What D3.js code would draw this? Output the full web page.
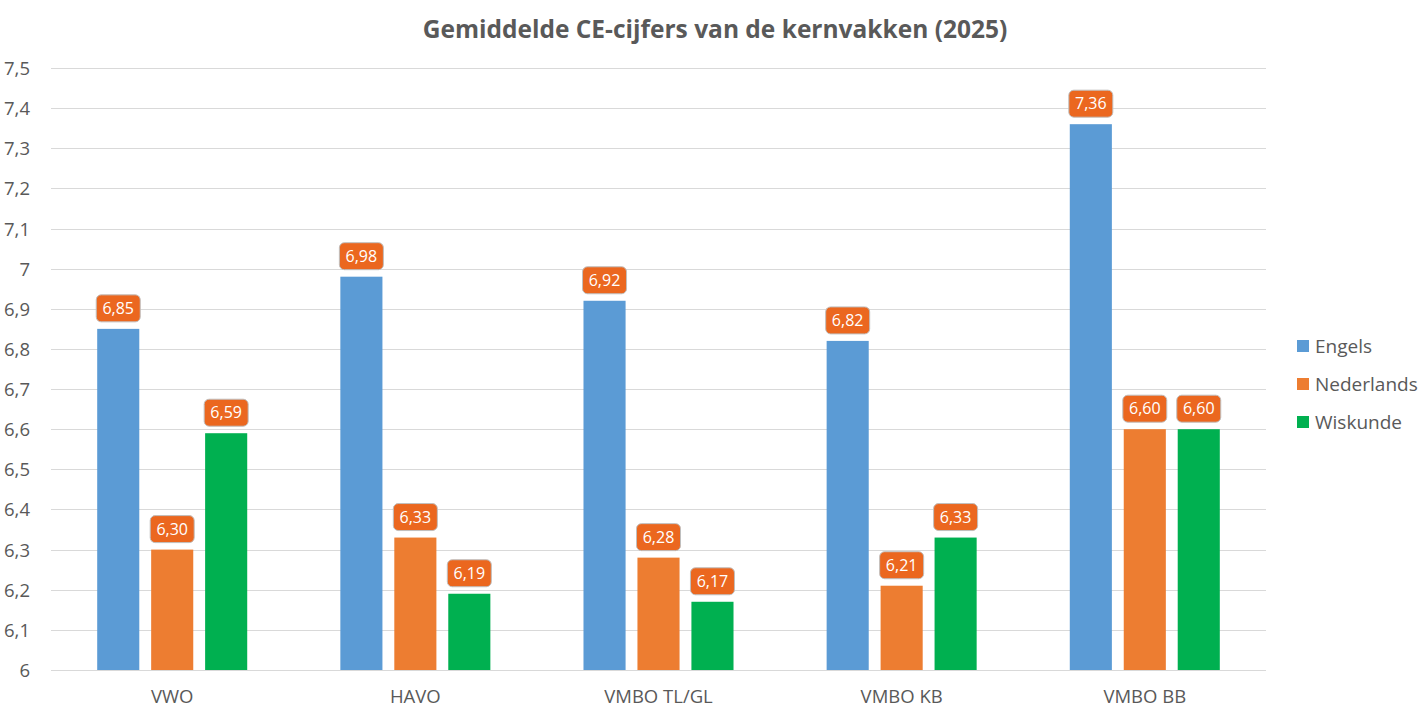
<!DOCTYPE html>
<html>
<head>
<meta charset="utf-8">
<script src="https://cdn.jsdelivr.net/npm/d3@7"></script>
<style>
  body { margin: 0; background: #fff; }
  text { font-family: "Open Sans", "Noto Sans", sans-serif; }
</style>
</head>
<body>
<div id="chart"></div>
<script>
const categories = ['VWO', 'HAVO', 'VMBO TL/GL', 'VMBO KB', 'VMBO BB']
const series = ['Engels', 'Nederlands', 'Wiskunde']
const engels = [6.85, 6.98, 6.92, 6.82, 7.36]
const nederlands = [6.30, 6.33, 6.28, 6.21, 6.60]
const wiskunde = [6.59, 6.19, 6.17, 6.33, 6.60]
const yTicks = [6, 6.1, 6.2, 6.3, 6.4, 6.5, 6.6, 6.7, 6.8, 6.9, 7, 7.1, 7.2, 7.3, 7.4, 7.5]

const colors = {Engels: '#5B9BD5', Nederlands: '#ED7D31', Wiskunde: '#00B050'}
const values = {Engels: engels, Nederlands: nederlands, Wiskunde: wiskunde}

const width = 1424, height = 717
const margin = {left: 51, top: 68, right: 158, bottom: 47}
const comma = d => String(d).replace('.', ',')

const svg = d3.select('#chart')
.append('svg')
.attr('width', width)
.attr('height', height)

const x0 = d3.scaleBand()
.domain(categories)
.range([margin.left, width - margin.right])
.paddingInner(0.383)
.paddingOuter(0.19)

const x1 = d3.scaleBand()
.domain(series)
.range([0, x0.bandwidth()])
.paddingInner(0.22)

const y = d3.scaleLinear()
.domain([6, 7.5])
.range([height - margin.bottom, margin.top])

// gridlines
svg.append('g')
.selectAll('line')
.data(yTicks)
.enter()
.append('line')
.attr('x1', margin.left)
.attr('x2', width - margin.right)
.attr('y1', d => Math.round(y(d)) + 0.5)
.attr('y2', d => Math.round(y(d)) + 0.5)
.attr('stroke', '#d9d9d9')
.attr('stroke-width', 1)

// y axis labels
const yAxis = svg.append('g')
.attr('transform', `translate(${margin.left - 18},0)`)
.call(d3.axisLeft(y).tickValues(yTicks).tickSize(0).tickFormat(comma))
yAxis.select('.domain').remove()
yAxis.selectAll('text')
.attr('fill', '#595959')
.style('font-size', '18.5px')
.attr('dy', '0.35em')

// x axis labels
const xAxis = svg.append('g')
.attr('transform', `translate(0,${height - margin.bottom + 17})`)
.call(d3.axisBottom(x0).tickSize(0))
xAxis.select('.domain').remove()
xAxis.selectAll('text')
.attr('fill', '#595959')
.style('font-size', '18.5px')

// bars
const groups = svg.append('g')
.selectAll('g')
.data(categories)
.enter()
.append('g')
.attr('transform', d => `translate(${x0(d)},0)`)

const cells = groups.selectAll('g')
.data((c, i) => series.map(s => ({series: s, value: values[s][i]})))
.enter()
.append('g')

cells.append('rect')
.attr('x', d => x1(d.series))
.attr('width', x1.bandwidth())
.attr('y', d => y(d.value))
.attr('height', d => y(6) - y(d.value))
.attr('fill', d => colors[d.series])

// data labels
const boxW = 44, boxH = 27
cells.append('rect')
.attr('x', d => x1(d.series) + x1.bandwidth() / 2 - boxW / 2)
.attr('y', d => y(d.value) - 7 - boxH)
.attr('width', boxW)
.attr('height', boxH)
.attr('rx', 5)
.attr('fill', '#EB671F')
.attr('stroke', '#bfbfbf')
.attr('stroke-width', 1)

cells.append('text')
.attr('x', d => x1(d.series) + x1.bandwidth() / 2)
.attr('y', d => y(d.value) - 7 - boxH / 2)
.attr('dy', '0.36em')
.attr('text-anchor', 'middle')
.attr('fill', '#fff')
.style('font-size', '16px')
.text(d => d3.format('.2f')(d.value).replace('.', ','))

// title
svg.append('text')
.attr('x', 715)
.attr('y', 38)
.attr('text-anchor', 'middle')
.attr('fill', '#595959')
.style('font-size', '24.5px')
.style('font-weight', 'bold')
.text('Gemiddelde CE-cijfers van de kernvakken (2025)')

// legend
const legend = svg.append('g')
.selectAll('g')
.data(series)
.enter()
.append('g')
.attr('transform', (d, i) => `translate(1297,${346 + i * 38})`)

legend.append('rect')
.attr('x', 0)
.attr('y', -6)
.attr('width', 12)
.attr('height', 12)
.attr('fill', d => colors[d])

legend.append('text')
.attr('x', 18)
.attr('y', 0)
.attr('dy', '0.35em')
.attr('fill', '#595959')
.style('font-size', '19px')
.text(d => d)
</script>
</body>
</html>
